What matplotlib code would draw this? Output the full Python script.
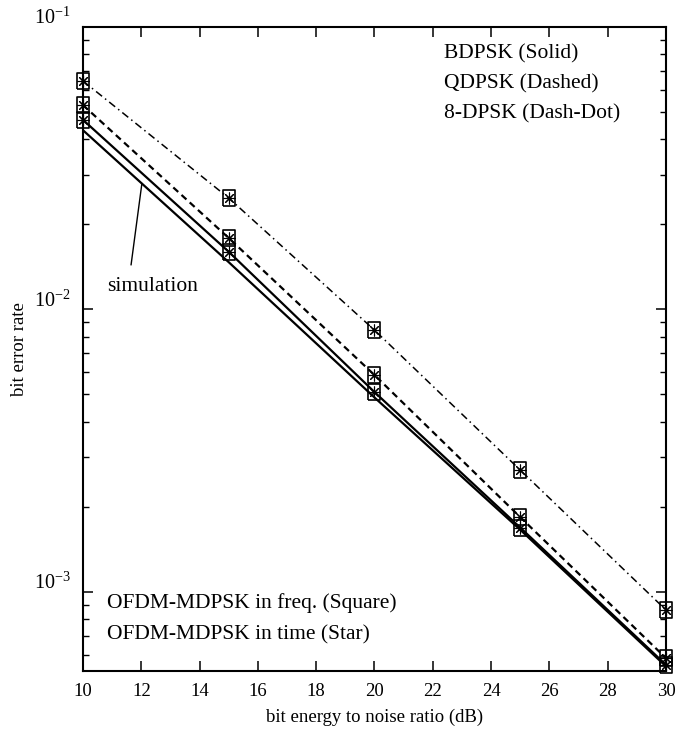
import numpy as np
import matplotlib
matplotlib.use("Agg")
import matplotlib.pyplot as plt
from matplotlib.transforms import ScaledTranslation
from matplotlib.ticker import LogLocator, MultipleLocator, NullFormatter

plt.rcParams["font.family"] = ["Liberation Serif", "DejaVu Serif"]
plt.rcParams["mathtext.fontset"] = "custom"
plt.rcParams["mathtext.rm"] = "Liberation Serif"
plt.rcParams["mathtext.it"] = "Liberation Serif:italic"

# Eb/N0 points (dB) and bit error rates
snr = [10, 15, 20, 25, 30]
ber_bdpsk = [0.0469, 0.0160, 0.00510, 0.00169, 5.52e-4]
ber_qdpsk = [0.0529, 0.0179, 0.00586, 0.00184, 5.83e-4]
ber_8dpsk = [0.0644, 0.0248, 0.00845, 0.00270, 8.63e-4]
ber_sim = [0.0431, 0.0147, 0.00488, 0.00166, 5.45e-4]

scheme_labels = ["BDPSK (Solid)", "QDPSK (Dashed)", "8-DPSK (Dash-Dot)"]
marker_labels = ["OFDM-MDPSK in freq. (Square)", "OFDM-MDPSK in time (Star)"]

fig = plt.figure(figsize=(6.87, 7.31), dpi=100)
ax = fig.add_axes([0.1208, 0.0821, 0.8486, 0.881])

# analysis lines
ax.plot(snr, ber_bdpsk, color="k", lw=1.6, ls="-")
ax.plot(snr, ber_sim, color="k", lw=1.6, ls="-")
ax.plot(snr, ber_qdpsk, color="k", lw=1.6, ls=(0, (3, 2)))
ax.plot(snr, ber_8dpsk, color="k", lw=1.1, ls=(0, (5, 2.5, 1, 2.5)))

# simulation markers (square = freq., star = time)
box = [(-0.8, -1), (0.8, -1), (0.8, 1), (-0.8, 1), (-0.8, -1)]
for ber in (ber_bdpsk, ber_qdpsk, ber_8dpsk):
    ax.plot(snr, ber, ls="none", marker=box, ms=11.5, mfc="none",
            mec="k", mew=1.2, clip_on=False, zorder=5)
    ax.plot(snr, ber, ls="none", marker=(8, 2, 0), ms=8.5, mec="k",
            mew=0.8, clip_on=False, zorder=5)

ax.set_xlim(10, 30)
ax.set_ylim(5.25e-4, 0.1)
ax.set_yscale("log")
ax.xaxis.set_major_locator(MultipleLocator(2))
ax.yaxis.set_major_locator(LogLocator(base=10, numticks=10))
ax.yaxis.set_minor_locator(LogLocator(base=10, subs=np.arange(2, 10), numticks=10))
ax.yaxis.set_minor_formatter(NullFormatter())

ax.tick_params(which="both", direction="in", top=True, right=True, labelsize=13.5)
ax.tick_params(axis="y", labelsize=14.5)
ax.tick_params(which="major", length=7, width=1.1)
ax.tick_params(which="minor", length=4, width=1.0)
ax.tick_params(axis="x", pad=9)
ax.tick_params(axis="y", pad=9)
for s in ax.spines.values():
    s.set_linewidth(1.5)

# y labels sit a little above their ticks in the original
shift = ScaledTranslation(0, 8 / 72, fig.dpi_scale_trans)
for lab in ax.get_yticklabels():
    lab.set_transform(lab.get_transform() + shift)

ax.set_xlabel("bit energy to noise ratio (dB)", fontsize=13.5, labelpad=6)
ax.set_ylabel("bit error rate", fontsize=13.5, labelpad=4)

for i, t in enumerate(scheme_labels):
    ax.text(0.619, 0.973 - i * 0.0465, t, transform=ax.transAxes,
            fontsize=15.5, va="top", ha="left")
for i, t in enumerate(marker_labels):
    ax.text(0.041, 0.105 - i * 0.049, t, transform=ax.transAxes,
            fontsize=15.5, va="center", ha="left")

ax.text(0.041, 0.597, "simulation", transform=ax.transAxes,
        fontsize=15.5, va="center", ha="left")
ax.plot([11.65, 12.02], [0.0144, 0.0279], color="k", lw=1.0)

fig.savefig("out.png", dpi=100)
